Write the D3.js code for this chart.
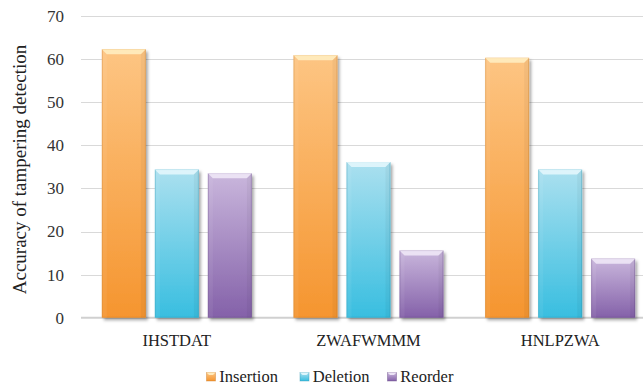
<!DOCTYPE html>
<html>
<head>
<meta charset="utf-8">
<script src="https://cdn.jsdelivr.net/npm/d3@7/dist/d3.min.js"></script>
<style>
  html, body { margin: 0; padding: 0; background: #fff; }
  svg { display: block; }
</style>
</head>
<body>
<svg id="chart" width="643" height="388"></svg>
<script>
// Data
const categories = ["IHSTDAT", "ZWAFWMMM", "HNLPZWA"];
const seriesNames = ["Insertion", "Deletion", "Reorder"];
const insertion = [62.3, 60.9, 60.3];
const deletion  = [34.4, 36.1, 34.4];
const reorder   = [33.5, 15.6, 13.7];
const yTicks = [0, 10, 20, 30, 40, 50, 60, 70];

const seriesValues = [insertion, deletion, reorder];
const FONT = "Liberation Serif";
const colors = [
  { top: "#fdc583", bottom: "#f5952f", bevel: "#fff0c4", edge: "#c97a26" },
  { top: "#abe0ef", bottom: "#38bee0", bevel: "#e6f8fd", edge: "#2d97b3" },
  { top: "#c9b6dc", bottom: "#8461a9", bevel: "#f1eaf8", edge: "#654885" }
];

const svg = d3.select("#chart");
const defs = svg.append("defs");

// Vertical gradients for bar fills
colors.forEach((c, i) => {
  const g = defs.append("linearGradient")
    .attr("id", "grad" + i)
    .attr("x1", 0).attr("y1", 0).attr("x2", 0).attr("y2", 1);
  g.append("stop").attr("offset", "0%").attr("stop-color", c.top);
  g.append("stop").attr("offset", "100%").attr("stop-color", c.bottom);
});

// Soft drop shadow under bars
const f = defs.append("filter").attr("id", "shadow")
  .attr("x", "-20%").attr("y", "-10%").attr("width", "150%").attr("height", "130%");
f.append("feDropShadow").attr("dx", 2).attr("dy", 2.5).attr("stdDeviation", 1.8)
  .attr("flood-color", "#000").attr("flood-opacity", 0.35);

// Scales
const y = d3.scaleLinear().domain([0, 70]).range([317.7, 16]);
const x0 = d3.scaleBand().domain(categories).range([81, 656])
  .paddingInner(0.2175).paddingOuter(0.10875);
const x1 = d3.scaleBand().domain(seriesNames).range([0, x0.bandwidth()])
  .paddingInner(0.17).paddingOuter(0);

// Gridlines
svg.append("g").selectAll("line")
  .data(yTicks.filter(t => t > 0))
  .join("line")
  .attr("x1", 81).attr("x2", 643)
  .attr("y1", d => Math.round(y(d)) + 0.5).attr("y2", d => Math.round(y(d)) + 0.5)
  .attr("stroke", "#d9d9d9").attr("stroke-width", 1);

// Baseline
svg.append("line")
  .attr("x1", 81).attr("x2", 643)
  .attr("y1", y(0)).attr("y2", y(0))
  .attr("stroke", "#d0d0d0").attr("stroke-width", 2);

// Y axis tick labels
const yAxis = d3.axisLeft(y).tickValues(yTicks).tickSize(0).tickPadding(0);
const yg = svg.append("g").attr("transform", "translate(64,0)").call(yAxis)
  .attr("font-family", FONT).attr("font-size", 17);
yg.select(".domain").remove();
yg.selectAll("text").attr("fill", "#333");

// Y axis title
svg.append("text")
  .attr("transform", "translate(26,169.5) rotate(-90)")
  .attr("text-anchor", "middle")
  .attr("font-family", FONT)
  .attr("font-size", 19).attr("fill", "#222")
  .text("Accuracy of tampering detection");

// Bars
const groups = svg.append("g").selectAll("g")
  .data(categories)
  .join("g")
  .attr("transform", d => `translate(${x0(d)},0)`);

groups.each(function(cat, ci) {
  const g = d3.select(this);
  seriesNames.forEach((s, si) => {
    const v = seriesValues[si][ci];
    const bx = x1(s), bw = x1.bandwidth();
    const by = y(v), bh = y(0) - y(v);
    const c = colors[si];
    const bar = g.append("g");
    bar.append("rect")
      .attr("x", bx).attr("y", by).attr("width", bw).attr("height", bh)
      .attr("fill", `url(#grad${si})`)
      .attr("filter", "url(#shadow)");
    // Side edges
    bar.append("rect")
      .attr("x", bx + 0.5).attr("y", by + 0.5).attr("width", bw - 1).attr("height", bh - 1)
      .attr("fill", "none").attr("stroke", c.edge).attr("stroke-opacity", 0.35);
    // Top bevel
    const bev = 5;
    bar.append("path")
      .attr("d", `M${bx},${by} L${bx + bw},${by} L${bx + bw - bev},${by + bev} L${bx + bev},${by + bev} Z`)
      .attr("fill", c.bevel).attr("opacity", 0.85);
    bar.append("path")
      .attr("d", `M${bx},${by} L${bx + bev},${by + bev} L${bx + bev},${by + bh} L${bx},${by + bh} Z`)
      .attr("fill", "#ffffff").attr("opacity", 0.06);
    bar.append("path")
      .attr("d", `M${bx + bw},${by} L${bx + bw - bev},${by + bev} L${bx + bw - bev},${by + bh} L${bx + bw},${by + bh} Z`)
      .attr("fill", "#000000").attr("opacity", 0.04);
  });
});

// Category labels
svg.append("g").selectAll("text")
  .data(categories)
  .join("text")
  .attr("x", d => x0(d) + x0.bandwidth() / 2)
  .attr("y", 345.5)
  .attr("text-anchor", "middle")
  .attr("font-family", FONT)
  .attr("font-size", 16.5).attr("fill", "#222")
  .text(d => d);

// Legend
const legendX = [206.5, 300, 387.5];
const lg = svg.append("g").selectAll("g")
  .data(seriesNames)
  .join("g")
  .attr("transform", (d, i) => `translate(${legendX[i]},372.5)`);
lg.append("rect")
  .attr("x", 0).attr("y", 0).attr("width", 9).attr("height", 8.5)
  .attr("fill", (d, i) => `url(#grad${i})`)
  .attr("stroke", (d, i) => colors[i].edge).attr("stroke-opacity", 0.5).attr("stroke-width", 0.8);
lg.append("path")
  .attr("d", "M0,0 L9,0 L6.5,2.5 L2.5,2.5 Z")
  .attr("fill", (d, i) => colors[i].bevel).attr("opacity", 0.9);
lg.append("text")
  .attr("x", 12.8).attr("y", 9.8)
  .attr("font-family", FONT)
  .attr("font-size", 16.5).attr("fill", "#222")
  .text(d => d);
</script>
</body>
</html>
